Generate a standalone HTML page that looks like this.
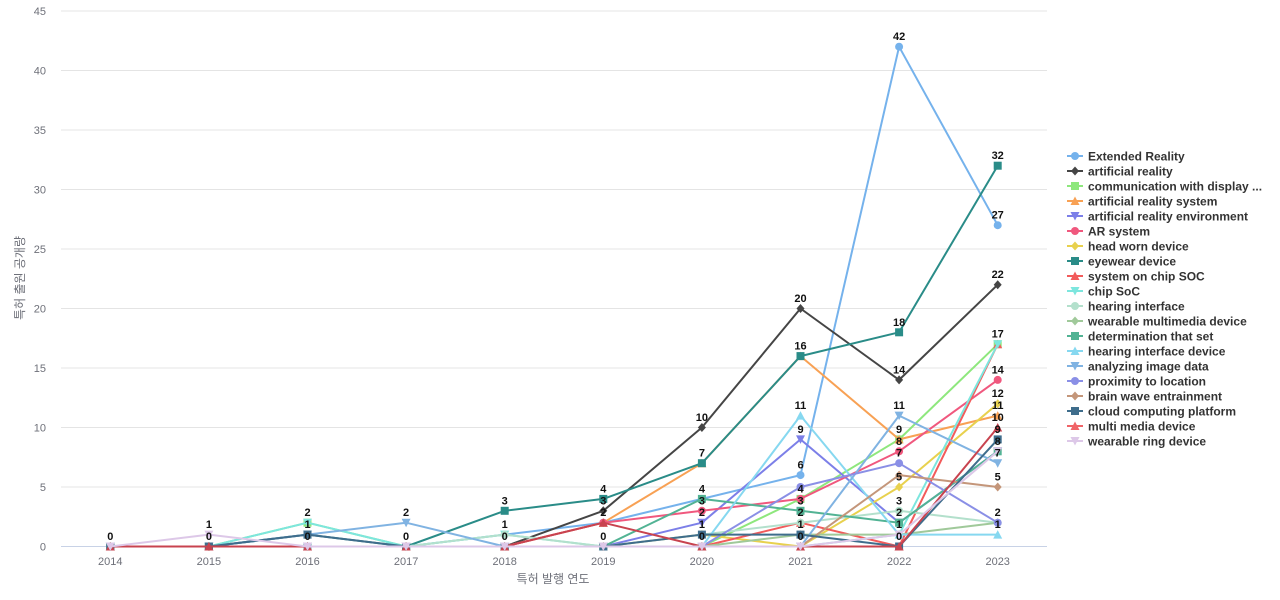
<!DOCTYPE html>
<html><head><meta charset="utf-8"><style>
html,body{margin:0;padding:0;background:#fff;}
svg{display:block;}
text{font-family:"Liberation Sans","Noto Sans CJK KR",sans-serif;}
.yl{font-size:11px;fill:#6e7079;text-anchor:end;}
.xl{font-size:11px;fill:#6e7079;text-anchor:middle;}
.an{font-size:12px;fill:#6e7079;text-anchor:middle;}
.lb{font-size:11px;font-weight:bold;fill:#111;text-anchor:middle;}
.lg{font-size:12px;font-weight:bold;fill:#333;}
polyline{fill:none;stroke-width:2;stroke-linejoin:round;}
</style></head><body>
<svg width="1280" height="600" viewBox="0 0 1280 600" xmlns="http://www.w3.org/2000/svg">
<defs>
<marker id="m1" viewBox="-6 -6 12 12" markerWidth="12" markerHeight="12" markerUnits="userSpaceOnUse" overflow="visible"><circle r="4" fill="#75b2ec"/></marker>
<marker id="m2" viewBox="-6 -6 12 12" markerWidth="12" markerHeight="12" markerUnits="userSpaceOnUse" overflow="visible"><polygon points="0,-4.5 4,0 0,4.5 -4,0" fill="#454545"/></marker>
<marker id="m3" viewBox="-6 -6 12 12" markerWidth="12" markerHeight="12" markerUnits="userSpaceOnUse" overflow="visible"><rect x="-4" y="-4" width="8" height="8" fill="#8ee77d"/></marker>
<marker id="m4" viewBox="-6 -6 12 12" markerWidth="12" markerHeight="12" markerUnits="userSpaceOnUse" overflow="visible"><polygon points="0,-4.5 4.5,4 -4.5,4" fill="#f8a154"/></marker>
<marker id="m5" viewBox="-6 -6 12 12" markerWidth="12" markerHeight="12" markerUnits="userSpaceOnUse" overflow="visible"><polygon points="-4.5,-4 4.5,-4 0,4.5" fill="#7c7fe8"/></marker>
<marker id="m6" viewBox="-6 -6 12 12" markerWidth="12" markerHeight="12" markerUnits="userSpaceOnUse" overflow="visible"><circle r="4" fill="#f0587e"/></marker>
<marker id="m7" viewBox="-6 -6 12 12" markerWidth="12" markerHeight="12" markerUnits="userSpaceOnUse" overflow="visible"><polygon points="0,-4.5 4,0 0,4.5 -4,0" fill="#e8d14e"/></marker>
<marker id="m8" viewBox="-6 -6 12 12" markerWidth="12" markerHeight="12" markerUnits="userSpaceOnUse" overflow="visible"><rect x="-4" y="-4" width="8" height="8" fill="#2a8c88"/></marker>
<marker id="m9" viewBox="-6 -6 12 12" markerWidth="12" markerHeight="12" markerUnits="userSpaceOnUse" overflow="visible"><polygon points="0,-4.5 4.5,4 -4.5,4" fill="#f25b5b"/></marker>
<marker id="m10" viewBox="-6 -6 12 12" markerWidth="12" markerHeight="12" markerUnits="userSpaceOnUse" overflow="visible"><polygon points="-4.5,-4 4.5,-4 0,4.5" fill="#7de6de"/></marker>
<marker id="m11" viewBox="-6 -6 12 12" markerWidth="12" markerHeight="12" markerUnits="userSpaceOnUse" overflow="visible"><circle r="4" fill="#b3e0cc"/></marker>
<marker id="m12" viewBox="-6 -6 12 12" markerWidth="12" markerHeight="12" markerUnits="userSpaceOnUse" overflow="visible"><polygon points="0,-4.5 4,0 0,4.5 -4,0" fill="#a0c99a"/></marker>
<marker id="m13" viewBox="-6 -6 12 12" markerWidth="12" markerHeight="12" markerUnits="userSpaceOnUse" overflow="visible"><rect x="-4" y="-4" width="8" height="8" fill="#52b394"/></marker>
<marker id="m14" viewBox="-6 -6 12 12" markerWidth="12" markerHeight="12" markerUnits="userSpaceOnUse" overflow="visible"><polygon points="0,-4.5 4.5,4 -4.5,4" fill="#86d8f0"/></marker>
<marker id="m15" viewBox="-6 -6 12 12" markerWidth="12" markerHeight="12" markerUnits="userSpaceOnUse" overflow="visible"><polygon points="-4.5,-4 4.5,-4 0,4.5" fill="#80b3e2"/></marker>
<marker id="m16" viewBox="-6 -6 12 12" markerWidth="12" markerHeight="12" markerUnits="userSpaceOnUse" overflow="visible"><circle r="4" fill="#8a8fe6"/></marker>
<marker id="m17" viewBox="-6 -6 12 12" markerWidth="12" markerHeight="12" markerUnits="userSpaceOnUse" overflow="visible"><polygon points="0,-4.5 4,0 0,4.5 -4,0" fill="#c4967a"/></marker>
<marker id="m18" viewBox="-6 -6 12 12" markerWidth="12" markerHeight="12" markerUnits="userSpaceOnUse" overflow="visible"><rect x="-4" y="-4" width="8" height="8" fill="#3f6d8c"/></marker>
<marker id="m19" viewBox="-6 -6 12 12" markerWidth="12" markerHeight="12" markerUnits="userSpaceOnUse" overflow="visible"><polygon points="0,-4.5 4.5,4 -4.5,4" fill="#c8434f"/></marker>
<marker id="m20" viewBox="-6 -6 12 12" markerWidth="12" markerHeight="12" markerUnits="userSpaceOnUse" overflow="visible"><polygon points="-4.5,-4 4.5,-4 0,4.5" fill="#ddc8e8"/></marker>
</defs>

<!-- grid -->
<g stroke="#e4e4e4" stroke-width="1">
<line x1="61" y1="11" x2="1047" y2="11"/>
<line x1="61" y1="70.5" x2="1047" y2="70.5"/>
<line x1="61" y1="130" x2="1047" y2="130"/>
<line x1="61" y1="189.5" x2="1047" y2="189.5"/>
<line x1="61" y1="249" x2="1047" y2="249"/>
<line x1="61" y1="308.5" x2="1047" y2="308.5"/>
<line x1="61" y1="368" x2="1047" y2="368"/>
<line x1="61" y1="427.5" x2="1047" y2="427.5"/>
<line x1="61" y1="487" x2="1047" y2="487"/>
</g>
<line x1="61" y1="546.5" x2="1047" y2="546.5" stroke="#c8d2e6" stroke-width="1"/>

<!-- y labels -->
<text class="yl" x="46" y="15">45</text>
<text class="yl" x="46" y="74.5">40</text>
<text class="yl" x="46" y="134">35</text>
<text class="yl" x="46" y="193.5">30</text>
<text class="yl" x="46" y="253">25</text>
<text class="yl" x="46" y="312.5">20</text>
<text class="yl" x="46" y="372">15</text>
<text class="yl" x="46" y="431.5">10</text>
<text class="yl" x="46" y="491">5</text>
<text class="yl" x="46" y="550.5">0</text>
<text class="an" transform="translate(24,278) rotate(-90)">특허 출원 공개량</text>

<!-- x labels -->
<text class="xl" x="110.3" y="565">2014</text>
<text class="xl" x="208.9" y="565">2015</text>
<text class="xl" x="307.5" y="565">2016</text>
<text class="xl" x="406.1" y="565">2017</text>
<text class="xl" x="504.7" y="565">2018</text>
<text class="xl" x="603.3" y="565">2019</text>
<text class="xl" x="701.9" y="565">2020</text>
<text class="xl" x="800.5" y="565">2021</text>
<text class="xl" x="899.1" y="565">2022</text>
<text class="xl" x="997.7" y="565">2023</text>
<text class="an" x="553" y="583">특허 발행 연도</text>

<!-- series -->
<polyline stroke="#75b2ec" marker-start="url(#m1)" marker-mid="url(#m1)" marker-end="url(#m1)" points="110.3,546.5 208.9,546.5 307.5,546.5 406.1,546.5 504.7,534.6 603.3,522.7 701.9,498.9 800.5,475.1 899.1,46.7 997.7,225.2"/>
<polyline stroke="#454545" marker-start="url(#m2)" marker-mid="url(#m2)" marker-end="url(#m2)" points="110.3,546.5 208.9,546.5 307.5,546.5 406.1,546.5 504.7,546.5 603.3,510.8 701.9,427.5 800.5,308.5 899.1,379.9 997.7,284.7"/>
<polyline stroke="#8ee77d" marker-start="url(#m3)" marker-mid="url(#m3)" marker-end="url(#m3)" points="110.3,546.5 208.9,546.5 307.5,522.7 406.1,546.5 504.7,546.5 603.3,546.5 701.9,546.5 800.5,498.9 899.1,439.4 997.7,344.2"/>
<polyline stroke="#f8a154" marker-start="url(#m4)" marker-mid="url(#m4)" marker-end="url(#m4)" points="110.3,546.5 208.9,546.5 307.5,546.5 406.1,546.5 504.7,546.5 603.3,522.7 701.9,463.2 800.5,356.1 899.1,439.4 997.7,415.6"/>
<polyline stroke="#7c7fe8" marker-start="url(#m5)" marker-mid="url(#m5)" marker-end="url(#m5)" points="110.3,546.5 208.9,546.5 307.5,546.5 406.1,546.5 504.7,546.5 603.3,546.5 701.9,522.7 800.5,439.4 899.1,522.7 997.7,451.3"/>
<polyline stroke="#f0587e" marker-start="url(#m6)" marker-mid="url(#m6)" marker-end="url(#m6)" points="110.3,546.5 208.9,546.5 307.5,546.5 406.1,546.5 504.7,546.5 603.3,522.7 701.9,510.8 800.5,498.9 899.1,451.3 997.7,379.9"/>
<polyline stroke="#e8d14e" marker-start="url(#m7)" marker-mid="url(#m7)" marker-end="url(#m7)" points="110.3,546.5 208.9,546.5 307.5,546.5 406.1,546.5 504.7,546.5 603.3,546.5 701.9,534.6 800.5,546.5 899.1,487 997.7,403.7"/>
<polyline stroke="#2a8c88" marker-start="url(#m8)" marker-mid="url(#m8)" marker-end="url(#m8)" points="110.3,546.5 208.9,546.5 307.5,534.6 406.1,546.5 504.7,510.8 603.3,498.9 701.9,463.2 800.5,356.1 899.1,332.3 997.7,165.7"/>
<polyline stroke="#f25b5b" marker-start="url(#m9)" marker-mid="url(#m9)" marker-end="url(#m9)" points="110.3,546.5 208.9,546.5 307.5,546.5 406.1,546.5 504.7,546.5 603.3,546.5 701.9,546.5 800.5,522.7 899.1,546.5 997.7,344.2"/>
<polyline stroke="#7de6de" marker-start="url(#m10)" marker-mid="url(#m10)" marker-end="url(#m10)" points="110.3,546.5 208.9,546.5 307.5,522.7 406.1,546.5 504.7,534.6 603.3,546.5 701.9,546.5 800.5,546.5 899.1,534.6 997.7,344.2"/>
<polyline stroke="#b3e0cc" marker-start="url(#m11)" marker-mid="url(#m11)" marker-end="url(#m11)" points="110.3,546.5 208.9,546.5 307.5,546.5 406.1,546.5 504.7,534.6 603.3,546.5 701.9,534.6 800.5,522.7 899.1,510.8 997.7,522.7"/>
<polyline stroke="#a0c99a" marker-start="url(#m12)" marker-mid="url(#m12)" marker-end="url(#m12)" points="110.3,546.5 208.9,546.5 307.5,546.5 406.1,546.5 504.7,546.5 603.3,546.5 701.9,546.5 800.5,534.6 899.1,534.6 997.7,522.7"/>
<polyline stroke="#52b394" marker-start="url(#m13)" marker-mid="url(#m13)" marker-end="url(#m13)" points="110.3,546.5 208.9,546.5 307.5,546.5 406.1,546.5 504.7,546.5 603.3,546.5 701.9,498.9 800.5,510.8 899.1,522.7 997.7,451.3"/>
<polyline stroke="#86d8f0" marker-start="url(#m14)" marker-mid="url(#m14)" marker-end="url(#m14)" points="110.3,546.5 208.9,546.5 307.5,546.5 406.1,546.5 504.7,546.5 603.3,546.5 701.9,546.5 800.5,415.6 899.1,534.6 997.7,534.6"/>
<polyline stroke="#80b3e2" marker-start="url(#m15)" marker-mid="url(#m15)" marker-end="url(#m15)" points="110.3,546.5 208.9,546.5 307.5,534.6 406.1,522.7 504.7,546.5 603.3,546.5 701.9,546.5 800.5,546.5 899.1,415.6 997.7,463.2"/>
<polyline stroke="#8a8fe6" marker-start="url(#m16)" marker-mid="url(#m16)" marker-end="url(#m16)" points="110.3,546.5 208.9,546.5 307.5,546.5 406.1,546.5 504.7,546.5 603.3,546.5 701.9,546.5 800.5,487 899.1,463.2 997.7,522.7"/>
<polyline stroke="#c4967a" marker-start="url(#m17)" marker-mid="url(#m17)" marker-end="url(#m17)" points="110.3,546.5 208.9,546.5 307.5,546.5 406.1,546.5 504.7,546.5 603.3,546.5 701.9,546.5 800.5,546.5 899.1,475.1 997.7,487"/>
<polyline stroke="#3f6d8c" marker-start="url(#m18)" marker-mid="url(#m18)" marker-end="url(#m18)" points="110.3,546.5 208.9,546.5 307.5,534.6 406.1,546.5 504.7,546.5 603.3,546.5 701.9,534.6 800.5,534.6 899.1,546.5 997.7,439.4"/>
<polyline stroke="#c8434f" marker-start="url(#m19)" marker-mid="url(#m19)" marker-end="url(#m19)" points="110.3,546.5 208.9,546.5 307.5,546.5 406.1,546.5 504.7,546.5 603.3,522.7 701.9,546.5 800.5,546.5 899.1,546.5 997.7,427.5"/>
<polyline stroke="#ddc8e8" marker-start="url(#m20)" marker-mid="url(#m20)" marker-end="url(#m20)" points="110.3,546.5 208.9,534.6 307.5,546.5 406.1,546.5 504.7,546.5 603.3,546.5 701.9,546.5 800.5,546.5 899.1,534.6 997.7,451.3"/>

<!-- data labels -->
<g class="lbs">
<text class="lb" x="110.3" y="540">0</text>
<text class="lb" x="208.9" y="528.1">1</text>
<text class="lb" x="208.9" y="540">0</text>
<text class="lb" x="307.5" y="516.2">2</text>
<text class="lb" x="307.5" y="528.1">1</text>
<text class="lb" x="307.5" y="540">0</text>
<text class="lb" x="406.1" y="516.2">2</text>
<text class="lb" x="406.1" y="540">0</text>
<text class="lb" x="504.7" y="504.3">3</text>
<text class="lb" x="504.7" y="528.1">1</text>
<text class="lb" x="504.7" y="540">0</text>
<text class="lb" x="603.3" y="492.4">4</text>
<text class="lb" x="603.3" y="504.3">3</text>
<text class="lb" x="603.3" y="516.2">2</text>
<text class="lb" x="603.3" y="540">0</text>
<text class="lb" x="701.9" y="421">10</text>
<text class="lb" x="701.9" y="456.7">7</text>
<text class="lb" x="701.9" y="492.4">4</text>
<text class="lb" x="701.9" y="504.3">3</text>
<text class="lb" x="701.9" y="516.2">2</text>
<text class="lb" x="701.9" y="528.1">1</text>
<text class="lb" x="701.9" y="540">0</text>
<text class="lb" x="800.5" y="302">20</text>
<text class="lb" x="800.5" y="349.6">16</text>
<text class="lb" x="800.5" y="409.1">11</text>
<text class="lb" x="800.5" y="432.9">9</text>
<text class="lb" x="800.5" y="468.6">6</text>
<text class="lb" x="800.5" y="492.4">4</text>
<text class="lb" x="800.5" y="504.3">3</text>
<text class="lb" x="800.5" y="516.2">2</text>
<text class="lb" x="800.5" y="528.1">1</text>
<text class="lb" x="800.5" y="540">0</text>
<text class="lb" x="899.1" y="40.2">42</text>
<text class="lb" x="899.1" y="325.8">18</text>
<text class="lb" x="899.1" y="373.4">14</text>
<text class="lb" x="899.1" y="409.1">11</text>
<text class="lb" x="899.1" y="432.9">9</text>
<text class="lb" x="899.1" y="444.8">8</text>
<text class="lb" x="899.1" y="456.7">7</text>
<text class="lb" x="899.1" y="480.5">5</text>
<text class="lb" x="899.1" y="504.3">3</text>
<text class="lb" x="899.1" y="516.2">2</text>
<text class="lb" x="899.1" y="528.1">1</text>
<text class="lb" x="899.1" y="540">0</text>
<text class="lb" x="997.7" y="159.2">32</text>
<text class="lb" x="997.7" y="218.7">27</text>
<text class="lb" x="997.7" y="278.2">22</text>
<text class="lb" x="997.7" y="337.7">17</text>
<text class="lb" x="997.7" y="373.4">14</text>
<text class="lb" x="997.7" y="397.2">12</text>
<text class="lb" x="997.7" y="409.1">11</text>
<text class="lb" x="997.7" y="421">10</text>
<text class="lb" x="997.7" y="432.9">9</text>
<text class="lb" x="997.7" y="444.8">8</text>
<text class="lb" x="997.7" y="456.7">7</text>
<text class="lb" x="997.7" y="480.5">5</text>
<text class="lb" x="997.7" y="516.2">2</text>
<text class="lb" x="997.7" y="528.1">1</text>
</g>

<!-- legend -->
<g>
<line x1="1067" y1="156" x2="1083" y2="156" stroke="#75b2ec" stroke-width="2"/><circle cx="1075" cy="156" r="4" fill="#75b2ec"/><text class="lg" x="1088" y="160.5">Extended Reality</text>
<line x1="1067" y1="171" x2="1083" y2="171" stroke="#454545" stroke-width="2"/><polygon points="1075,166.5 1079,171 1075,175.5 1071,171" fill="#454545"/><text class="lg" x="1088" y="175.5">artificial reality</text>
<line x1="1067" y1="186" x2="1083" y2="186" stroke="#8ee77d" stroke-width="2"/><rect x="1071" y="182" width="8" height="8" fill="#8ee77d"/><text class="lg" x="1088" y="190.5">communication with display ...</text>
<line x1="1067" y1="201" x2="1083" y2="201" stroke="#f8a154" stroke-width="2"/><polygon points="1075,196.5 1079.5,205 1070.5,205" fill="#f8a154"/><text class="lg" x="1088" y="205.5">artificial reality system</text>
<line x1="1067" y1="216" x2="1083" y2="216" stroke="#7c7fe8" stroke-width="2"/><polygon points="1070.5,212 1079.5,212 1075,220.5" fill="#7c7fe8"/><text class="lg" x="1088" y="220.5">artificial reality environment</text>
<line x1="1067" y1="231" x2="1083" y2="231" stroke="#f0587e" stroke-width="2"/><circle cx="1075" cy="231" r="4" fill="#f0587e"/><text class="lg" x="1088" y="235.5">AR system</text>
<line x1="1067" y1="246" x2="1083" y2="246" stroke="#e8d14e" stroke-width="2"/><polygon points="1075,241.5 1079,246 1075,250.5 1071,246" fill="#e8d14e"/><text class="lg" x="1088" y="250.5">head worn device</text>
<line x1="1067" y1="261" x2="1083" y2="261" stroke="#2a8c88" stroke-width="2"/><rect x="1071" y="257" width="8" height="8" fill="#2a8c88"/><text class="lg" x="1088" y="265.5">eyewear device</text>
<line x1="1067" y1="276" x2="1083" y2="276" stroke="#f25b5b" stroke-width="2"/><polygon points="1075,271.5 1079.5,280 1070.5,280" fill="#f25b5b"/><text class="lg" x="1088" y="280.5">system on chip SOC</text>
<line x1="1067" y1="291" x2="1083" y2="291" stroke="#7de6de" stroke-width="2"/><polygon points="1070.5,287 1079.5,287 1075,295.5" fill="#7de6de"/><text class="lg" x="1088" y="295.5">chip SoC</text>
<line x1="1067" y1="306" x2="1083" y2="306" stroke="#b3e0cc" stroke-width="2"/><circle cx="1075" cy="306" r="4" fill="#b3e0cc"/><text class="lg" x="1088" y="310.5">hearing interface</text>
<line x1="1067" y1="321" x2="1083" y2="321" stroke="#a0c99a" stroke-width="2"/><polygon points="1075,316.5 1079,321 1075,325.5 1071,321" fill="#a0c99a"/><text class="lg" x="1088" y="325.5">wearable multimedia device</text>
<line x1="1067" y1="336" x2="1083" y2="336" stroke="#52b394" stroke-width="2"/><rect x="1071" y="332" width="8" height="8" fill="#52b394"/><text class="lg" x="1088" y="340.5">determination that set</text>
<line x1="1067" y1="351" x2="1083" y2="351" stroke="#86d8f0" stroke-width="2"/><polygon points="1075,346.5 1079.5,355 1070.5,355" fill="#86d8f0"/><text class="lg" x="1088" y="355.5">hearing interface device</text>
<line x1="1067" y1="366" x2="1083" y2="366" stroke="#80b3e2" stroke-width="2"/><polygon points="1070.5,362 1079.5,362 1075,370.5" fill="#80b3e2"/><text class="lg" x="1088" y="370.5">analyzing image data</text>
<line x1="1067" y1="381" x2="1083" y2="381" stroke="#8a8fe6" stroke-width="2"/><circle cx="1075" cy="381" r="4" fill="#8a8fe6"/><text class="lg" x="1088" y="385.5">proximity to location</text>
<line x1="1067" y1="396" x2="1083" y2="396" stroke="#c4967a" stroke-width="2"/><polygon points="1075,391.5 1079,396 1075,400.5 1071,396" fill="#c4967a"/><text class="lg" x="1088" y="400.5">brain wave entrainment</text>
<line x1="1067" y1="411" x2="1083" y2="411" stroke="#3f6d8c" stroke-width="2"/><rect x="1071" y="407" width="8" height="8" fill="#3f6d8c"/><text class="lg" x="1088" y="415.5">cloud computing platform</text>
<line x1="1067" y1="426" x2="1083" y2="426" stroke="#f06468" stroke-width="2"/><polygon points="1075,421.5 1079.5,430 1070.5,430" fill="#f06468"/><text class="lg" x="1088" y="430.5">multi media device</text>
<line x1="1067" y1="441" x2="1083" y2="441" stroke="#ddc8e8" stroke-width="2"/><polygon points="1070.5,437 1079.5,437 1075,445.5" fill="#ddc8e8"/><text class="lg" x="1088" y="445.5">wearable ring device</text>
</g>
</svg>
</body></html>
